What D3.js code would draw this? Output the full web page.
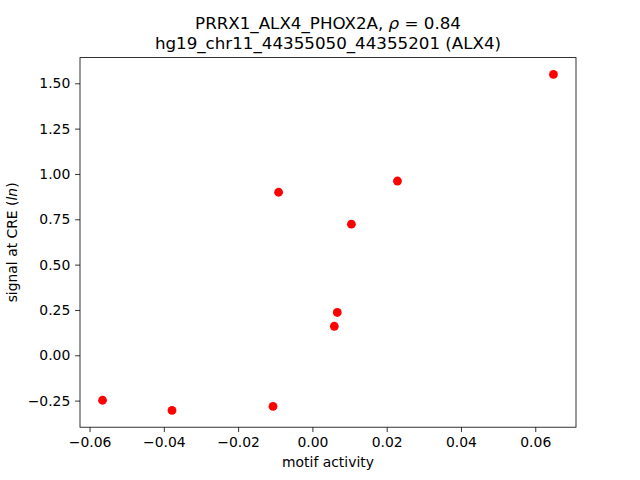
<!DOCTYPE html>
<html>
<head>
<meta charset="utf-8">
<script src="https://cdn.jsdelivr.net/npm/d3@7"></script>
<style>
body{margin:0;background:#fff;}
text{font-family:"DejaVu Sans",sans-serif;fill:#000;}
</style>
</head>
<body>
<svg width="640" height="480"></svg>
<script>
(()=>{

//data
let motifActivity = [0.0649, -0.0091, 0.0229, 0.0105, 0.0067, 0.0059, -0.0565, -0.0378, -0.0106];
let signalCRE = [1.549, 0.899, 0.961, 0.723, 0.236, 0.160, -0.248, -0.304, -0.282];
let xTicks = [-0.06, -0.04, -0.02, 0.00, 0.02, 0.04, 0.06];
let yTicks = [-0.25, 0.00, 0.25, 0.50, 0.75, 1.00, 1.25, 1.50];
let titleLines = ["PRRX1_ALX4_PHOX2A, ", "hg19_chr11_44355050_44355201 (ALX4)"];

let svg = d3.select("svg");
let left = 80, right = 576, top = 57.6, bottom = 427.2;

//matplotlib style 5% margins
let xext = d3.extent(motifActivity), yext = d3.extent(signalCRE);
let xpad = (xext[1]-xext[0])*0.05, ypad = (yext[1]-yext[0])*0.05;
let scalex = d3.scaleLinear().domain([xext[0]-xpad, xext[1]+xpad]).range([left, right]);
let scaley = d3.scaleLinear().domain([yext[0]-ypad, yext[1]+ypad]).range([bottom, top]);

let fmt = v => d3.format(".2f")(v).replace("-", "\u2212");

//points
svg.selectAll(".pt")
	.data(motifActivity)
	.enter().append("circle")
	.attr("class", "pt")
	.attr("cx", d => scalex(d))
	.attr("cy", (d, i) => scaley(signalCRE[i]))
	.attr("r", 4.4)
	.attr("fill", "red");

//axes
let xAxis = svg.append("g")
	.attr("transform", "translate(0," + bottom + ")")
	.call(d3.axisBottom(scalex).tickValues(xTicks).tickFormat(fmt).tickSize(4.86).tickPadding(4.86));
let yAxis = svg.append("g")
	.attr("transform", "translate(" + left + ",0)")
	.call(d3.axisLeft(scaley).tickValues(yTicks).tickFormat(fmt).tickSize(4.86).tickPadding(4.86));
[xAxis, yAxis].forEach(a => {
	a.select(".domain").remove();
	a.selectAll("line").attr("stroke", "#000").attr("stroke-width", 0.8);
	a.selectAll("text").style("font-size", "13.9px").attr("font-family", null);
});

//frame
svg.append("rect")
	.attr("x", left).attr("y", top)
	.attr("width", right-left).attr("height", bottom-top)
	.attr("fill", "none").attr("stroke", "#000").attr("stroke-width", 0.8);

//title
let t1 = svg.append("text")
	.attr("x", (left+right)/2).attr("y", 29)
	.attr("text-anchor", "middle")
	.style("font-size", "16.7px");
t1.append("tspan").text(titleLines[0]);
t1.append("tspan").style("font-style", "italic").text("\u03c1");
t1.append("tspan").text(" = 0.84");
svg.append("text")
	.attr("x", (left+right)/2).attr("y", 49)
	.attr("text-anchor", "middle")
	.style("font-size", "16.7px")
	.text(titleLines[1]);

//axis labels
svg.append("text")
	.attr("x", (left+right)/2).attr("y", 467)
	.attr("text-anchor", "middle")
	.style("font-size", "13.9px")
	.text("motif activity");
let yl = svg.append("text")
	.attr("transform", "translate(17," + (top+bottom)/2 + ") rotate(-90)")
	.attr("text-anchor", "middle")
	.style("font-size", "13.9px");
yl.append("tspan").text("signal at CRE (");
yl.append("tspan").style("font-style", "italic").text("ln");
yl.append("tspan").text(")");

})();
</script>
</body>
</html>
